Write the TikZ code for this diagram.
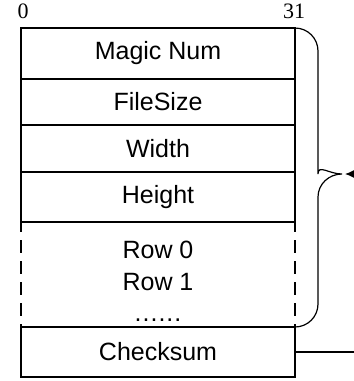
\documentclass[tikz,border=0pt]{standalone}
\usepackage{fontspec}
\setmainfont{Liberation Serif}
\newfontfamily\fieldfont{Liberation Sans}
\usetikzlibrary{positioning, arrows, arrows.meta}

\begin{document}
\begin{tikzpicture}[x=1pt,y=-1pt,node distance=0pt]
	\tikzstyle{field}=[draw,line width=1.2pt,minimum width=274pt,outer sep=0pt,inner sep=0pt,
		font=\fieldfont\fontsize{25}{31.5}\selectfont,align=center]
	\tikzstyle{bitnum}=[inner sep=0pt,font=\rmfamily\fontsize{22}{26}\selectfont]
	\tikzstyle{link}=[line width=1.2pt]
	\useasboundingbox (0,0) rectangle (354,381);

	\node[field,minimum height=51pt] (magic) at (158,53.5) {Magic Num};
	\node[field,minimum height=46pt,below=of magic] (filesize) {FileSize};
	\node[field,minimum height=47pt,below=of filesize] (width) {Width};
	\node[field,minimum height=50pt,below=of width] (height) {Height};
	\node[field,draw=none,minimum height=105pt,below=of height] (rows)
		{\rule{0pt}{31pt}Row 0\\Row 1\\.\kern1pt.\kern1pt.\kern1pt.\kern1pt.\kern1pt.};
	\node[field,minimum height=50pt,below=of rows] (checksum) {Checksum};

	\node[bitnum,anchor=base] (bit0) at (23,18) {0};
	\node[bitnum,anchor=base] (bit31) at (294,18) {31};

	% dashed sides of the row area
	\draw[link,dash pattern=on 13pt off 8pt,dash phase=3pt] (rows.north west) -- (rows.south west);
	\draw[link,dash pattern=on 13pt off 8pt,dash phase=3pt] (rows.north east) -- (rows.south east);

	% brace over the header and rows
	\coordinate (tip) at (342,174);
	\draw[link] (magic.north east) [rounded corners=23pt] -- (318,28) -- (318,151) [sharp corners]
		.. controls (318,164) and (329,174) .. (tip)
		.. controls (329,174) and (318,184) .. (318,197)
		[rounded corners=23pt] -- (318,327) -- (rows.south east);

	\coordinate (arrowin) at (366,174);
	\coordinate (sumout) at (362,352);
	\draw[link,-{Latex[length=9pt,width=8pt]},shorten >=3pt] (arrowin) -- (tip);
	\draw[link] (checksum.east) -- (sumout);
\end{tikzpicture}
\end{document}
